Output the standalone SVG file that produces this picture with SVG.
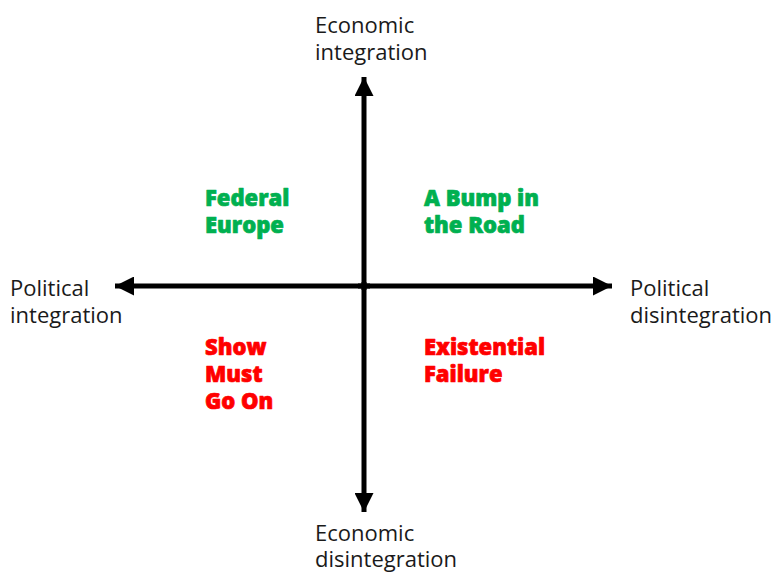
<svg xmlns="http://www.w3.org/2000/svg" width="775" height="572" viewBox="0 0 775 572">
  <style>
    .axis-label { font-family: "Open Sans", "Liberation Sans", sans-serif; font-size: 22px; fill: #1a1a1a; }
    .quad { font-family: "Open Sans", "DejaVu Sans", sans-serif; font-weight: 800; font-size: 22px; stroke-width: 0.7; stroke-linejoin: round; }
    .green { fill: #00b050; stroke: #00b050; }
    .red { fill: #ff0000; stroke: #ff0000; }
    .axis { stroke: #000; stroke-width: 5; fill: none; }
  </style>
  <defs>
    <marker id="head" viewBox="0 0 10 10" refX="10" refY="5" markerWidth="3.8" markerHeight="3.8" markerUnits="strokeWidth" orient="auto">
      <path d="M0,0 L10,5 L0,10 Z" fill="#000"/>
    </marker>
  </defs>
  <rect width="775" height="572" fill="#fff"/>

  <g id="connectors">
    <line class="axis" x1="364" y1="290" x2="364" y2="77" marker-end="url(#head)"/>
    <line class="axis" x1="364" y1="282" x2="364" y2="512" marker-end="url(#head)"/>
    <line class="axis" x1="370" y1="286" x2="115" y2="286" marker-end="url(#head)"/>
    <line class="axis" x1="358" y1="286" x2="612" y2="286" marker-end="url(#head)"/>
  </g>

  <g id="economic-integration">
    <text class="axis-label" x="315" y="33">Economic</text>
    <text class="axis-label" x="315" y="60">integration</text>
  </g>
  <g id="economic-disintegration">
    <text class="axis-label" x="315" y="541">Economic</text>
    <text class="axis-label" x="315" y="567">disintegration</text>
  </g>
  <g id="political-integration">
    <text class="axis-label" x="10" y="296">Political</text>
    <text class="axis-label" x="10" y="323">integration</text>
  </g>
  <g id="political-disintegration">
    <text class="axis-label" x="630" y="296">Political</text>
    <text class="axis-label" x="630" y="323">disintegration</text>
  </g>

  <g id="federal-europe" class="quad green">
    <text x="205" y="206">Federal</text>
    <text x="205" y="233">Europe</text>
  </g>
  <g id="bump-in-the-road" class="quad green">
    <text x="424" y="206">A Bump in</text>
    <text x="424" y="233">the Road</text>
  </g>
  <g id="show-must-go-on" class="quad red">
    <text x="205" y="355">Show</text>
    <text x="205" y="382">Must</text>
    <text x="205" y="409">Go On</text>
  </g>
  <g id="existential-failure" class="quad red">
    <text x="424" y="355">Existential</text>
    <text x="424" y="382">Failure</text>
  </g>
</svg>
